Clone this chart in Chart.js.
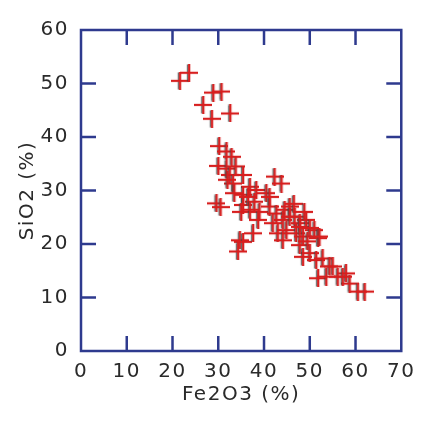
<!DOCTYPE html>
<html>
<head>
<meta charset="utf-8">
<script src="https://cdn.jsdelivr.net/npm/chart.js@4/dist/chart.umd.min.js"></script>
<style>
html,body{margin:0;padding:0;background:#fff;}
#wrap{width:423px;height:429px;}
</style>
</head>
<body>
<div id="wrap"><canvas id="c" width="423" height="429"></canvas></div>
<script>
const fe2o3 = [21.6,23.6,28.9,30.7,26.7,28.6,32.6,30.2,31.8,32.9,30.0,31.8,32.5,33.8,35.4,33.2,36.9,38.3,40.5,42.3,43.8,35.4,35.4,37.9,35.0,39.0,41.2,42.7,44.5,45.6,46.7,47.8,49.2,44.1,44.9,47.0,48.5,51.0,51.8,47.8,50.0,51.4,52.8,55.0,51.8,53.6,56.1,57.9,58.7,60.5,62.0,29.6,30.5,34.7,35.4,34.3,37.6,38.7,41.2,43.0,45.6,47.8,52.1,54.3,57.2,44.1,48.5,41.9,36.5,36.9,33.5,32.0,46.5,48.8,50.0,49.5];
const sio2  = [50.5,52.0,48.3,48.5,46.0,43.4,44.4,38.3,37.3,36.3,34.6,34.1,32.9,34.5,32.9,31.3,30.7,30.1,29.5,32.6,31.3,29.2,27.3,27.9,26.0,26.0,27.0,25.7,26.4,27.0,25.1,23.9,24.5,24.5,22.6,22.0,21.4,22.6,21.1,19.8,18.3,17.0,17.3,15.8,13.6,13.9,13.9,14.5,12.6,11.1,11.1,27.6,26.9,20.7,20.4,18.6,22.0,24.5,28.8,22.0,25.1,23.2,21.4,15.8,13.9,20.7,17.6,23.9,28.8,26.4,29.5,32.0,27.5,26.0,23.0,20.5];
const xTicks = [0,10,20,30,40,50,60,70];
const yTicks = [0,10,20,30,40,50,60];
const xTitle = 'Fe2O3 (%)';
const yTitle = 'SiO2 (%)';

const points = fe2o3.map((x,i)=>({x:x, y:sio2[i]}));

// cross marker image
const mk = document.createElement('canvas');
mk.width = 18; mk.height = 18;
(function(){
  const g = mk.getContext('2d');
  g.lineCap = 'butt';
  g.strokeStyle = 'rgba(70,70,70,0.75)';
  g.lineWidth = 1.6;
  g.beginPath(); g.moveTo(7.6,0.5); g.lineTo(7.6,17.5); g.stroke();
  g.strokeStyle = '#d71f1f';
  g.lineWidth = 2.2;
  g.beginPath(); g.moveTo(0,9); g.lineTo(18,9); g.stroke();
  g.beginPath(); g.moveTo(9.2,0); g.lineTo(9.2,18); g.stroke();
})();

const NAVY = '#2e3a8e';
const frame = {
  id:'frame',
  beforeDraw(chart){ chart.ctx.letterSpacing = '1.5px'; },
  afterDraw(chart){
    const {ctx, chartArea:a, scales} = chart;
    ctx.save();
    ctx.strokeStyle = NAVY;
    ctx.lineWidth = 2.5;
    const L = 15;
    ctx.beginPath();
    xTicks.forEach(v=>{
      const px = scales.x.getPixelForValue(v);
      if (v===xTicks[0]||v===xTicks[xTicks.length-1]) return;
      ctx.moveTo(px,a.bottom); ctx.lineTo(px,a.bottom-L);
      ctx.moveTo(px,a.top); ctx.lineTo(px,a.top+L);
    });
    yTicks.forEach(v=>{
      const py = scales.y.getPixelForValue(v);
      if (v===yTicks[0]||v===yTicks[yTicks.length-1]) return;
      ctx.moveTo(a.left,py); ctx.lineTo(a.left+L,py);
      ctx.moveTo(a.right,py); ctx.lineTo(a.right-L,py);
    });
    ctx.stroke();
    ctx.strokeRect(a.left, a.top, a.right-a.left, a.bottom-a.top);
    ctx.restore();
  }
};

const font = {family:'DejaVu Sans', size:20, weight:'normal'};
new Chart(document.getElementById('c'), {
  type:'scatter',
  data:{datasets:[{
    data: points,
    pointStyle: mk,
    pointRadius: 9,
    pointHoverRadius: 9,
    borderColor:'#d71f1f',
    backgroundColor:'#d71f1f'
  }]},
  options:{
    responsive:false,
    animation:false,
    events:[],
    layout:{padding:{left:0,right:21,top:30,bottom:0}},
    plugins:{legend:{display:false},tooltip:{enabled:false}},
    scales:{
      x:{
        type:'linear', min:0, max:70,
        afterBuildTicks(ax){ ax.ticks = xTicks.map(v=>({value:v})); },
        afterFit(ax){ ax.height = 78; },
        grid:{display:false, drawTicks:false},
        border:{display:false},
        ticks:{color:'#2a2a2a', font:font, padding:9, maxRotation:0, autoSkip:false},
        title:{display:true, text:xTitle, color:'#2a2a2a', font:font, padding:{top:0,bottom:22}}
      },
      y:{
        type:'linear', min:0, max:60,
        afterBuildTicks(ax){ ax.ticks = yTicks.map(v=>({value:v})); },
        afterFit(ax){ ax.width = 81; },
        grid:{display:false, drawTicks:false},
        border:{display:false},
        ticks:{color:'#2a2a2a', font:font, padding:12, autoSkip:false},
        title:{display:true, text:yTitle, color:'#2a2a2a', font:font, padding:{top:16,bottom:0}}
      }
    }
  },
  plugins:[frame]
});
</script>
</body>
</html>
